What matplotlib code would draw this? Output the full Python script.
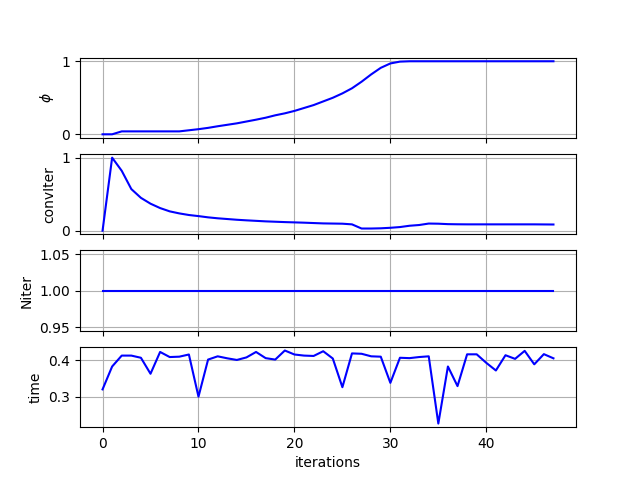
import matplotlib
matplotlib.use("Agg")
import matplotlib.pyplot as plt
import numpy as np

iterations = np.arange(48)

phi = [0.0, 0.0, 0.04, 0.04, 0.04, 0.04, 0.04, 0.04, 0.04, 0.055,
       0.07, 0.088, 0.11, 0.13, 0.15, 0.175, 0.2, 0.227, 0.26, 0.287,
       0.32, 0.36, 0.40, 0.45, 0.50, 0.56, 0.63, 0.72, 0.82, 0.91,
       0.97, 0.995, 1.0, 1.0, 1.0, 1.0, 1.0, 1.0, 1.0, 1.0,
       1.0, 1.0, 1.0, 1.0, 1.0, 1.0, 1.0, 1.0]

conv_iter = [0.0, 1.0, 0.82, 0.57, 0.45, 0.37, 0.31, 0.265, 0.237, 0.215,
             0.2, 0.183, 0.17, 0.16, 0.15, 0.142, 0.135, 0.128, 0.123, 0.118,
             0.114, 0.11, 0.105, 0.10, 0.098, 0.096, 0.087, 0.03, 0.03, 0.033,
             0.04, 0.05, 0.068, 0.078, 0.098, 0.096, 0.09, 0.088, 0.087, 0.087,
             0.087, 0.087, 0.087, 0.087, 0.087, 0.087, 0.086, 0.085]

niter = [1.0] * 48

time = [0.32, 0.383, 0.413, 0.413, 0.407, 0.363, 0.423, 0.409, 0.41, 0.416,
        0.30, 0.402, 0.411, 0.4055, 0.401, 0.408, 0.423, 0.406, 0.402, 0.427,
        0.416, 0.413, 0.412, 0.425, 0.405, 0.326, 0.419, 0.418, 0.411, 0.41,
        0.338, 0.407, 0.406, 0.409, 0.411, 0.226, 0.383, 0.329, 0.4165, 0.4165,
        0.393, 0.372, 0.414, 0.404, 0.426, 0.389, 0.417, 0.4055]

series = [(phi, r"$\phi$"), (conv_iter, "convIter"), (niter, "Niter"), (time, "time")]

fig, axes = plt.subplots(4, 1, sharex=True, figsize=(6.4, 4.8), dpi=100)
for ax, (values, label) in zip(axes, series):
    ax.plot(iterations, values, color="blue")
    ax.set_ylabel(label)
    ax.grid(True)

axes[-1].set_xlabel("iterations")

fig.savefig("out.png")
